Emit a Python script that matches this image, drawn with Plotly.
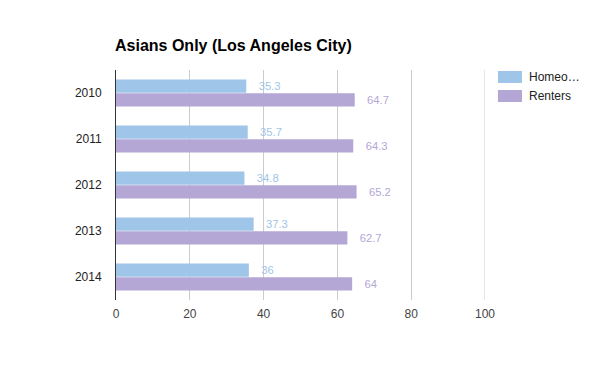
import plotly.graph_objects as go

years = ["2010", "2011", "2012", "2013", "2014"]
homeowners = [35.3, 35.7, 34.8, 37.3, 36]
renters = [64.7, 64.3, 65.2, 62.7, 64]
series_names = ["Homeo…", "Renters"]
x_ticks = [0, 20, 40, 60, 80, 100]

blue = "#9fc5e8"
purple = "#b4a7d6"
colors = [blue, purple]

W, H = 600, 371
L, R, T, B = 116, 115, 70, 71
pw, ph = W - L - R, H - T - B

fig = go.Figure()
for name, vals, c in zip(series_names, [homeowners, renters], colors):
    fig.add_trace(go.Bar(y=years, x=vals, orientation="h", name=name,
                         marker=dict(color=c, line=dict(width=0)), showlegend=False,
                         text=[f"{v:g}" for v in vals],
                         texttemplate="\u00a0\u00a0\u00a0%{text}",
                         textposition="outside", cliponaxis=False,
                         textfont=dict(color=c, size=12), hoverinfo="skip"))

annotations = []
shapes = [dict(type="line", xref="x", yref="paper", x0=x_ticks[-1], x1=x_ticks[-1], y0=0, y1=1,
               line=dict(color="#cccccc", width=1), layer="below")]
for i, (nm, c) in enumerate(zip(series_names, colors)):
    top = 71 + i * 19
    x0 = (498 - L) / pw
    x1 = (522 - L) / pw
    y0 = 1 - (top - T) / ph
    y1 = 1 - (top + 12 - T) / ph
    shapes.append(dict(type="rect", xref="paper", yref="paper", x0=x0, x1=x1, y0=y1, y1=y0,
                       fillcolor=c, line=dict(width=0)))
    annotations.append(dict(x=(527 - L) / pw, y=1 - (top + 6 - T) / ph, xref="paper", yref="paper",
                            text=nm, showarrow=False, xanchor="left", yanchor="middle",
                            font=dict(size=12, color="#222222")))

fig.update_layout(
    width=W, height=H,
    margin=dict(l=L, r=R, t=T, b=B),
    paper_bgcolor="white", plot_bgcolor="white",
    font=dict(family="Liberation Sans, Arial, sans-serif", size=12, color="#222222"),
    title=dict(text="<b>Asians Only (Los Angeles City)</b>", x=115/600, xanchor="left",
               y=1 - 45/371, yanchor="middle", font=dict(size=16, color="#000000")),
    barmode="group", bargap=0.4, bargroupgap=0.05,
    showlegend=False,
    annotations=annotations,
    shapes=shapes,
)
fig.update_xaxes(range=[0, 100], tickvals=x_ticks, showgrid=True, gridcolor="#cccccc",
                 zeroline=False, showline=False, ticks="", tickfont=dict(color="#444444"),
                 ticklabelstandoff=5, automargin=False, fixedrange=True)
fig.update_yaxes(type="category", categoryorder="array", categoryarray=years,
                 range=[len(years) - 0.5, -0.5], showline=True, linecolor="#333333",
                 linewidth=1, ticks="", ticklabelstandoff=11, showgrid=False, automargin=False,
                 fixedrange=True)

fig.write_html("out.html", config={"displayModeBar": False},
               post_script="document.body.style.margin='0';")
